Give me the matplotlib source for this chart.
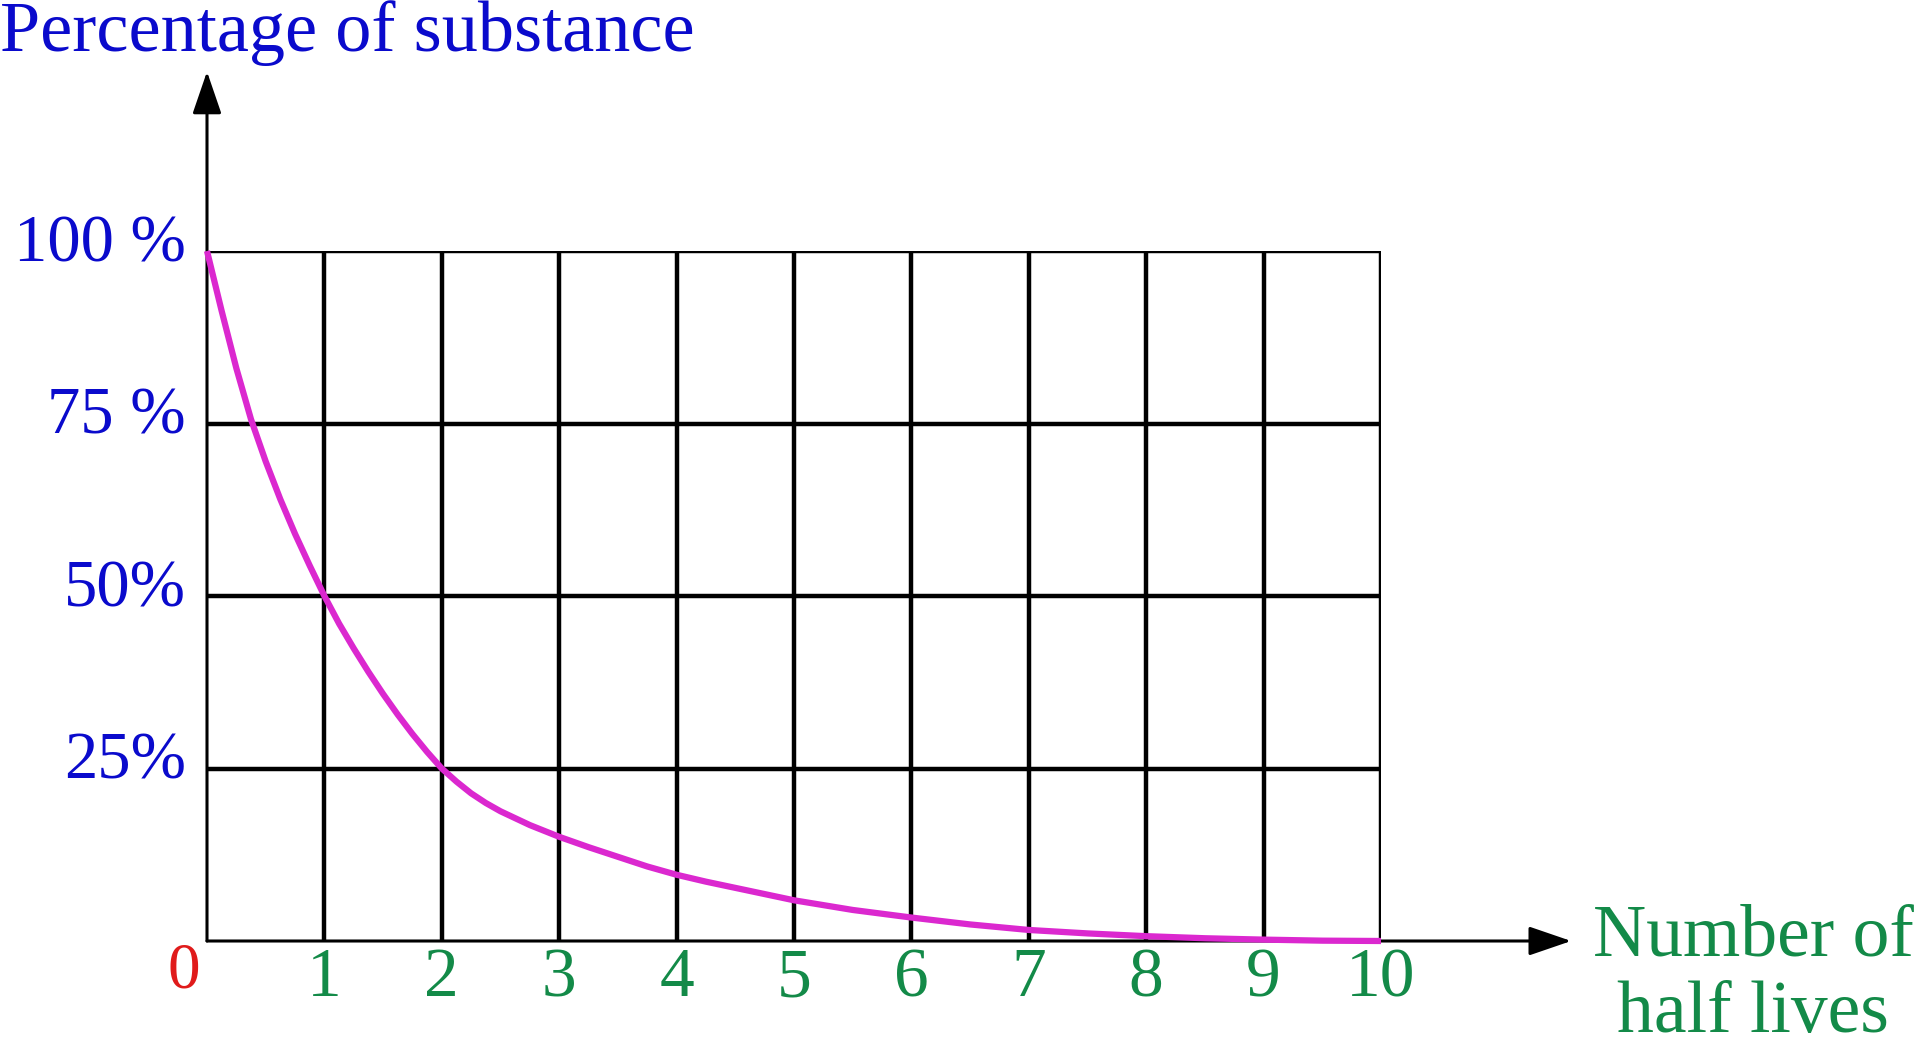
import matplotlib
matplotlib.use("Agg")
import matplotlib.pyplot as plt

# values
half_lives = [0, 0.125, 0.25, 0.375, 0.5, 0.625, 0.75, 0.875, 1, 1.125, 1.25, 1.375,
              1.5, 1.625, 1.75, 1.875, 2, 2.125, 2.25, 2.375, 2.5, 2.75, 3, 3.25, 3.5,
              3.75, 4, 4.25, 4.5, 4.75, 5, 5.5, 6, 6.5, 7, 7.5, 8, 8.5, 9, 9.5, 10]
percent = [100, 91.3, 83, 75.6, 69.5, 64, 59, 54.4, 50, 46, 42.4, 39,
           35.8, 32.8, 30, 27.4, 25, 23.1, 21.4, 20, 18.8, 16.8, 15.1, 13.6, 12.2,
           10.8, 9.6, 8.6, 7.7, 6.8, 5.9, 4.5, 3.4, 2.4, 1.6, 1.1, 0.7, 0.4, 0.2, 0.05, 0]

x_ticks = list(range(1, 11))
y_ticks = [25, 50, 75, 100]
y_labels = ["25%", "50%", "75 %", "100 %"]

blue = "#0A0ACC"
green = "#138A48"
red = "#E01B1B"
magenta = "#DB28CF"

plt.rcParams["font.family"] = ["Liberation Serif", "DejaVu Serif"]

fig = plt.figure(figsize=(19.2, 10.5), dpi=100)
ax = fig.add_axes([207 / 1920, 109 / 1050, 1174 / 1920, 690 / 1050])
ax.set_xlim(0, 10)
ax.set_ylim(0, 100)
ax.axis("off")

# grid
ax.vlines(x_ticks, 0, 100, colors="black", lw=3.2)
ax.hlines(y_ticks, 0, 10, colors="black", lw=3.2)

# axes with arrows
arrow = dict(arrowstyle="-|>,head_length=1.05,head_width=0.36", color="black",
             lw=2.2, mutation_scale=25, shrinkA=0, shrinkB=0)
ax.annotate("", xy=(0, 126), xytext=(0, 0), arrowprops=arrow, annotation_clip=False)
ax.annotate("", xy=(11.62, 0), xytext=(0, 0), arrowprops=arrow, annotation_clip=False)

# curve
ax.plot(half_lives, percent, color=magenta, lw=4.5, solid_capstyle="butt",
        solid_joinstyle="round", clip_on=False, zorder=5)

# labels
for v, lab in zip(y_ticks, y_labels):
    ax.text(-0.18, v + 0.9, lab, ha="right", va="center", fontsize=48, color=blue)
for x in x_ticks:
    ax.text(x, -5.6, str(x), ha="center", va="center", fontsize=50, color=green)
ax.text(-0.2, -4.4, "0", ha="center", va="center", fontsize=47, color=red)

fig.text(0.0, 1 - 51 / 1050, "Percentage of substance", ha="left", va="baseline",
         fontsize=52, color=blue)
fig.text(1753 / 1920, 1 - 976 / 1050, "Number of\nhalf lives", ha="center", va="center",
         fontsize=53, color=green, linespacing=1.17)

fig.savefig("out.png", dpi=100)
